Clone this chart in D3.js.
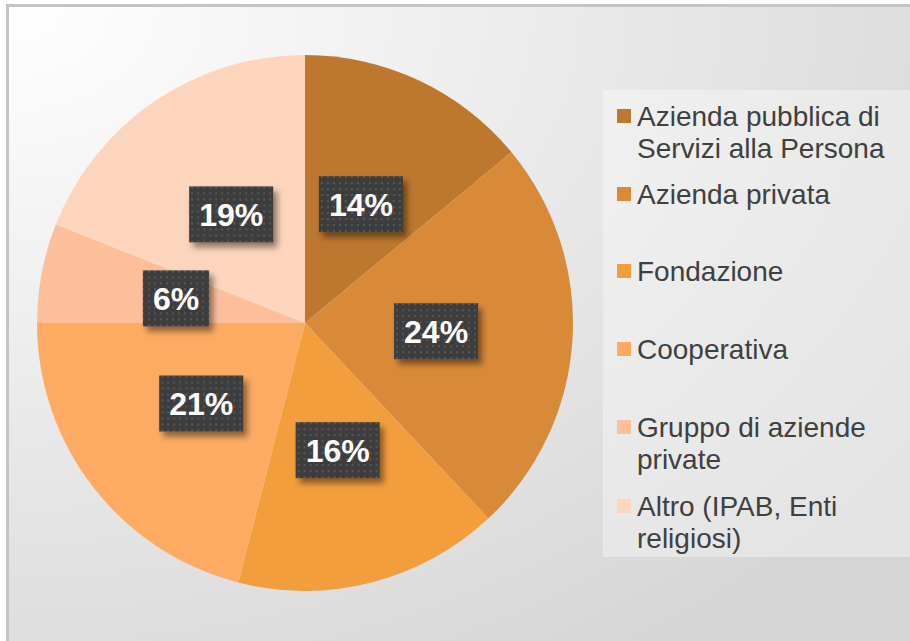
<!DOCTYPE html>
<html>
<head>
<meta charset="utf-8">
<script src="https://cdn.jsdelivr.net/npm/d3@7"></script>
<style>
  html, body { margin: 0; padding: 0; background: #ffffff; }
  svg { display: block; }
</style>
</head>
<body>
<svg id="chart"></svg>
<script>
(function(){
    "use strict";

    var categories = [
        "Azienda pubblica di Servizi alla Persona",
        "Azienda privata",
        "Fondazione",
        "Cooperativa",
        "Gruppo di aziende private",
        "Altro (IPAB, Enti religiosi)"
    ];
    var values = [14, 24, 16, 21, 6, 19];
    var colors = ["#bd772e", "#d98a38", "#f29e3c", "#fdab63", "#fdbf9a", "#fdd5bd"];
    // legend lines, as wrapped in the original
    var legendLines = [
        ["Azienda pubblica di", "Servizi alla Persona"],
        ["Azienda privata"],
        ["Fondazione"],
        ["Cooperativa"],
        ["Gruppo di aziende", "private"],
        ["Altro (IPAB, Enti", "religiosi)"]
    ];

    var width = 910,
        height = 641,
        cx = 305,
        cy = 323,
        radius = 268;

    var svg = d3.select("svg#chart")
        .attr("width", width)
        .attr("height", height);

    var defs = svg.append("defs");

    // background gradient
    var bg = defs.append("radialGradient")
        .attr("id", "bg")
        .attr("cx", "0%").attr("cy", "0%").attr("r", "120%");
    bg.append("stop").attr("offset", "0%").attr("stop-color", "#ffffff");
    bg.append("stop").attr("offset", "100%").attr("stop-color", "#d6d6d6");

    // dotted texture for the label boxes
    var pat = defs.append("pattern")
        .attr("id", "dots")
        .attr("width", 6).attr("height", 6)
        .attr("patternUnits", "userSpaceOnUse");
    pat.append("rect").attr("width", 6).attr("height", 6).attr("fill", "#3d3d3d");
    pat.append("rect").attr("x", 2).attr("y", 2).attr("width", 2).attr("height", 2).attr("fill", "#575757");

    var shadow = defs.append("filter").attr("id", "shadow")
        .attr("x", "-20%").attr("y", "-20%").attr("width", "150%").attr("height", "160%");
    shadow.append("feDropShadow")
        .attr("dx", 4).attr("dy", 5).attr("stdDeviation", 3)
        .attr("flood-color", "#000").attr("flood-opacity", 0.45);

    // chart area
    svg.append("rect")
        .attr("x", 7.5).attr("y", 5.5)
        .attr("width", width + 10).attr("height", height + 10)
        .attr("fill", "url(#bg)")
        .attr("stroke", "#c4c4c4")
        .attr("stroke-width", 3);

    // legend panel
    svg.append("rect")
        .attr("x", 603).attr("y", 90)
        .attr("width", 320).attr("height", 467)
        .attr("fill", "#ffffff")
        .attr("fill-opacity", 0.35);

    var pie = d3.pie().sort(null).value(function(d) { return d; });
    var arcs = pie(values);

    var arc = d3.arc().innerRadius(0).outerRadius(radius);
    var labelArc = d3.arc().innerRadius(radius * 0.98).outerRadius(0);

    var g = svg.append("g")
        .attr("transform", "translate(" + cx + "," + cy + ")");

    g.selectAll("path.slice")
        .data(arcs)
        .enter().append("path")
        .attr("class", "slice")
        .attr("d", arc)
        .attr("fill", function(d, i) { return colors[i]; });

    var labels = g.selectAll("g.label")
        .data(arcs)
        .enter().append("g")
        .attr("class", "label")
        .attr("transform", function(d) {
            return "translate(" + labelArc.centroid(d) + ")";
        });

    labels.append("text")
        .attr("text-anchor", "middle")
        .attr("dy", "0.36em")
        .attr("font-family", "Liberation Sans, Arial, sans-serif")
        .attr("font-weight", "bold")
        .attr("font-size", 32)
        .attr("fill", "#ffffff")
        .text(function(d) { return d.data + "%"; });

    labels.each(function() {
        var t = d3.select(this).select("text");
        var bb = t.node().getBBox();
        d3.select(this).insert("rect", "text")
            .attr("x", bb.x - 10)
            .attr("y", -28)
            .attr("width", bb.width + 20)
            .attr("height", 56)
            .attr("fill", "url(#dots)")
            .attr("filter", "url(#shadow)");
    });

    // legend
    var itemY = [116, 194, 271, 349, 427, 506];
    var legend = svg.append("g")
        .attr("font-family", "Liberation Sans, Arial, sans-serif")
        .attr("font-size", 28)
        .attr("fill", "#404040");

    var items = legend.selectAll("g.item")
        .data(categories)
        .enter().append("g")
        .attr("class", "item")
        .attr("transform", function(d, i) { return "translate(617," + itemY[i] + ")"; });

    items.append("rect")
        .attr("x", 0).attr("y", -7)
        .attr("width", 14).attr("height", 14)
        .attr("fill", function(d, i) { return colors[i]; });

    items.append("text")
        .selectAll("tspan")
        .data(function(d, i) { return legendLines[i]; })
        .enter().append("tspan")
        .attr("x", 20)
        .attr("y", function(d, j) { return 10 + j * 32; })
        .text(function(d) { return d; });

})();
</script>
</body>
</html>
